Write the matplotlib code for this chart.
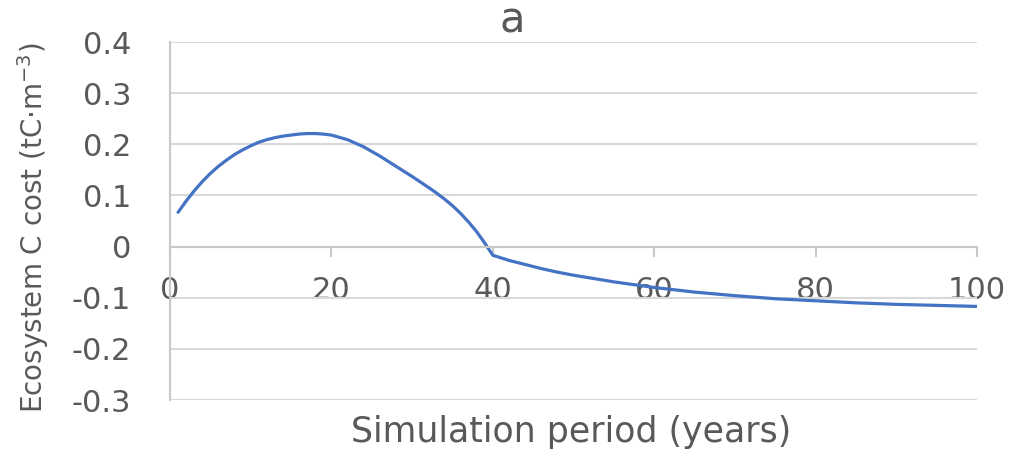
import numpy as np
import matplotlib.pyplot as plt

## years and ecosystem C cost
years = [1, 2, 3, 4, 5, 6, 7, 8, 9, 10, 11, 12, 13, 14, 15, 16, 17, 18, 19,
         20, 22, 24, 26, 28, 30, 32, 33, 34, 35, 36, 37, 38, 39, 40,
         41, 42, 44, 46, 48, 50, 55, 60, 65, 70, 75, 80, 85, 90, 95, 100]
cost = [0.067, 0.089, 0.109, 0.127, 0.143, 0.157, 0.169, 0.180, 0.189,
        0.197, 0.204, 0.209, 0.213, 0.216, 0.218, 0.220, 0.221, 0.221, 0.220,
        0.218, 0.209, 0.195, 0.177, 0.157, 0.137, 0.116, 0.105, 0.093, 0.080,
        0.065, 0.048, 0.029, 0.007, -0.017,
        -0.022, -0.027, -0.035, -0.043, -0.050, -0.056, -0.069, -0.080,
        -0.089, -0.096, -0.102, -0.106, -0.110, -0.113, -0.115, -0.117]
xticks = [0, 20, 40, 60, 80, 100]
yticks = [-0.3, -0.2, -0.1, 0, 0.1, 0.2, 0.3, 0.4]
yticklabels = ['-0.3', '-0.2', '-0.1', '0', '0.1', '0.2', '0.3', '0.4']

txt = '#595959'
grid = '#d9d9d9'

fig = plt.figure(figsize=(10.11, 4.49), dpi=100)
ax = fig.add_axes([170 / 1011, 1 - 400 / 449, 807 / 1011, 358 / 449])

ax.plot(years, cost, color='#4472C4', linewidth=2.3, solid_capstyle='round',
        solid_joinstyle='round')

ax.set_xlim(0, 100)
ax.set_ylim(-0.3, 0.4)
ax.set_yticks(yticks)
ax.set_yticklabels(yticklabels)
ax.set_xticks(xticks)
ax.grid(axis='y', color=grid, linewidth=1.5)
ax.set_axisbelow(True)

for s in ['top', 'right']:
    ax.spines[s].set_visible(False)
ax.spines['left'].set_color('#c8c8c8')
ax.spines['left'].set_linewidth(1.5)
ax.spines['bottom'].set_position(('data', 0))
ax.spines['bottom'].set_color('#c8c8c8')
ax.spines['bottom'].set_linewidth(1.5)

ax.tick_params(axis='y', length=0, labelsize=22, labelcolor=txt, pad=28)
ax.tick_params(axis='x', length=7, width=1.5, color='#c8c8c8', direction='out',
               labelsize=22, labelcolor=txt, pad=14)

fig.text(0.507, 0.955, 'a', ha='center', va='center', fontsize=30, color=txt)
fig.text(571 / 1011, 1 - 432 / 449, 'Simulation period (years)', ha='center',
         va='center', fontsize=25, color=txt)
fig.text(33 / 1011, 1 - 228 / 449, 'Ecosystem C cost (tC·m$^{-3}$)', rotation=90,
         ha='center', va='center', fontsize=20, color=txt)

plt.savefig('out.png', dpi=100)
